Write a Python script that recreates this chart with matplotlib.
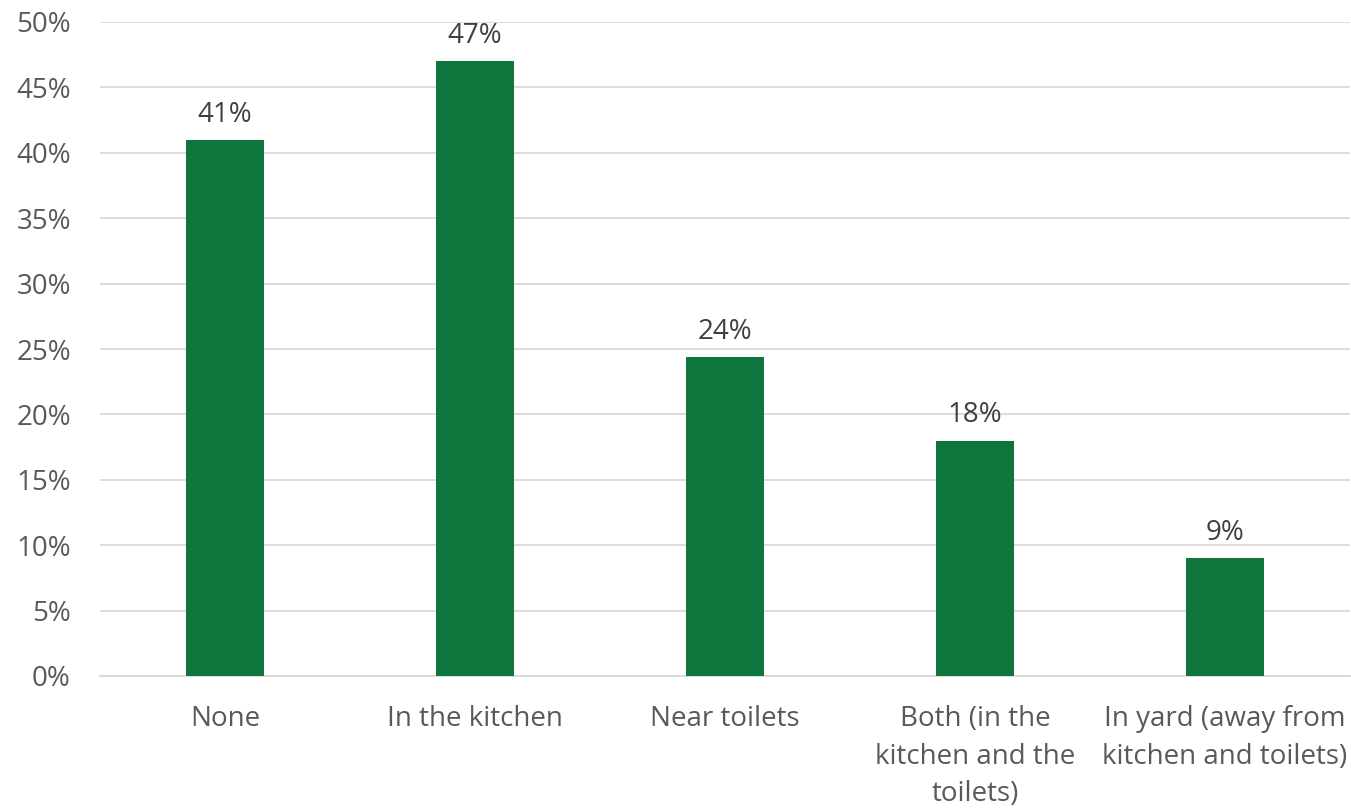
import matplotlib
matplotlib.use("Agg")
import matplotlib.pyplot as plt
from matplotlib.ticker import MultipleLocator, PercentFormatter

categories = [
    "None",
    "In the kitchen",
    "Near toilets",
    "Both (in the\nkitchen and the\ntoilets)",
    "In yard (away from\nkitchen and toilets)",
]
values = [41.0, 47.0, 24.4, 18.0, 9.0]

bar_color = "#0E763C"
tick_color = "#595959"
label_color = "#404040"
grid_color = "#D9D9D9"

plt.rcParams["font.family"] = ["Open Sans", "DejaVu Sans"]

fig = plt.figure(figsize=(13.51, 8.09), dpi=100)
ax = fig.add_axes([100 / 1351, 133 / 809, 1250 / 1351, 654 / 809])

x = range(len(categories))
bars = ax.bar(x, values, width=0.312, color=bar_color, zorder=3)

for rect, v in zip(bars, values):
    ax.annotate(f"{v:.0f}%", (rect.get_x() + rect.get_width() / 2, v),
                xytext=(0, 8), textcoords="offset points",
                ha="center", va="bottom", fontsize=20, color=label_color)

ax.set_xlim(-0.5, len(categories) - 0.5)
ax.set_ylim(0, 50)
ax.yaxis.set_major_locator(MultipleLocator(5))
ax.yaxis.set_major_formatter(PercentFormatter(decimals=0))
ax.grid(axis="y", color=grid_color, linewidth=1.3, zorder=0)

ax.set_xticks(list(x))
ax.set_xticklabels(categories, linespacing=1.45)
ax.tick_params(axis="both", length=0, labelsize=20, labelcolor=tick_color)
ax.tick_params(axis="x", pad=21)
ax.tick_params(axis="y", pad=21)

for side in ["top", "right", "left"]:
    ax.spines[side].set_visible(False)
ax.spines["bottom"].set_color(grid_color)
ax.spines["bottom"].set_linewidth(1.3)

fig.savefig("out.png", dpi=100)
